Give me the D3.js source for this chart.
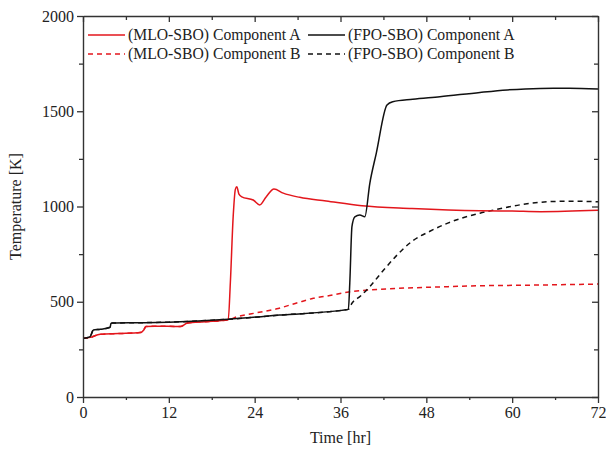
<!DOCTYPE html>
<html><head><meta charset="utf-8">
<script src="https://cdn.jsdelivr.net/npm/d3@7"></script>
<style>body{margin:0;background:#fff}svg{display:block}text{font-family:"Liberation Serif","Times New Roman",serif;fill:#222}</style>
</head><body><svg id="c" width="606" height="451"></svg>
<script>
const xTicks = [0,12,24,36,48,60,72];
const yTicks = [0,500,1000,1500,2000];
const seriesNames = ["(MLO-SBO) Component A","(MLO-SBO) Component B","(FPO-SBO) Component A","(FPO-SBO) Component B"];

const mloA_t = [0,1,2.4,5,8,8.5,8.8,10,13.6,14.6,17,20.3,20.6,21.0,21.3,21.5,21.8,22.2,23.8,24.7,25.6,26.7,28,30.3,34,39,46,55.5,60,64,72];
const mloA_v = [307,313,329,333,338,352,370,372,370,388,395,405,600,950,1090,1104,1065,1051,1034,1008,1050,1092,1070,1048,1029,1004,990,978,976,973,980];

const mloB_t = [0,1,2.4,5,8,8.5,8.8,10,13.6,14.6,17,20.3,21.5,24,27.3,30,32.2,34.1,36.9,40,43.9,50,55.5,60,66,72];
const mloB_v = [307,313,329,333,338,352,370,372,370,388,395,405,421,440,465,495,518,530,550,562,570,578,584,586,589,593];

const fpoA_t = [0,1,1.45,2.4,3.8,3.9,4.1,8,12,20.3,27.5,37.1,37.3,37.6,38,38.7,39.4,40.1,41,42.5,43.3,46.1,49.9,55.5,59.3,63.9,68,72];
const fpoA_v = [307,317,352,355,366,385,388,390,393,408,430,460,600,894,946,955,946,1122,1279,1533,1550,1563,1576,1599,1612,1620,1621,1617];

const fpoB_t = [0,1,1.45,2.4,3.8,3.9,4.1,8,12,20.3,27.5,37.1,37.6,38.8,40.1,42,43.9,46.1,48.5,51,55.5,57,61.5,65,68,72];
const fpoB_v = [307,317,352,355,366,385,388,390,393,408,430,460,492,530,580,665,745,820,870,913,965,978,1011,1025,1028,1025];

const svg = d3.select("#c");
const m = {l:83, r:598, t:16, b:397};
const x = d3.scaleLinear().domain([0,72]).range([m.l,m.r]);
const y = d3.scaleLinear().domain([0,2000]).range([m.b,m.t]);
const red = "#e3161c", blk = "#111";

const mk = (ts,vs)=>ts.map((t,i)=>[t,vs[i]]);
const series = [
  {d:mk(mloA_t,mloA_v), c:red, dash:null},
  {d:mk(mloB_t,mloB_v), c:red, dash:"5,4"},
  {d:mk(fpoA_t,fpoA_v), c:blk, dash:null},
  {d:mk(fpoB_t,fpoB_v), c:blk, dash:"5,4"}
];
const line = d3.line().x(d=>x(d[0])).y(d=>y(d[1])).curve(d3.curveMonotoneX);
const plot = svg.append("g");
[1,3,0,2].forEach(i=>{
  const s=series[i];
  plot.append("path").attr("d",line(s.d)).attr("fill","none").attr("stroke",s.c)
    .attr("stroke-width",1.5).attr("stroke-dasharray",s.dash);
});

const axc="#333";
const minorX = d3.range(6,72,12), minorY = d3.range(250,2000,500);
const fmt = d3.format("d");
function styleAxis(g){ g.attr("font-family",null).attr("font-size",null);
  g.selectAll("path").attr("stroke",axc).attr("stroke-width",1.4);
  g.selectAll("line").attr("stroke",axc).attr("stroke-width",1.3);
  g.selectAll("text").style("font-family",'"Liberation Serif",serif').style("font-size","16px").attr("fill","#222"); }

const gb = svg.append("g").attr("transform",`translate(0,${m.b})`)
  .call(d3.axisBottom(x).tickValues(xTicks).tickFormat(fmt).tickSize(6).tickPadding(4).tickSizeOuter(0));
styleAxis(gb);
svg.append("g").attr("transform",`translate(0,${m.b})`).call(d3.axisBottom(x).tickValues(minorX).tickSize(3).tickFormat("")).call(g=>{g.select("path").remove();styleAxis(g);});
const gl = svg.append("g").attr("transform",`translate(${m.l},0)`)
  .call(d3.axisLeft(y).tickValues(yTicks).tickFormat(fmt).tickSize(6).tickPadding(3).tickSizeOuter(0));
styleAxis(gl);
svg.append("g").attr("transform",`translate(${m.l},0)`).call(d3.axisLeft(y).tickValues(minorY).tickSize(4).tickFormat("")).call(g=>{g.select("path").remove();styleAxis(g);});
svg.append("g").attr("transform",`translate(0,${m.t})`).call(d3.axisBottom(x).tickValues(xTicks).tickSize(6).tickFormat("").tickSizeOuter(0)).call(styleAxis);
svg.append("g").attr("transform",`translate(0,${m.t})`).call(d3.axisBottom(x).tickValues(minorX).tickSize(4).tickFormat("")).call(g=>{g.select("path").remove();styleAxis(g);});
svg.append("g").attr("transform",`translate(${m.r},0)`).call(d3.axisLeft(y).tickValues(yTicks).tickSize(6).tickFormat("").tickSizeOuter(0)).call(styleAxis);
svg.append("g").attr("transform",`translate(${m.r},0)`).call(d3.axisLeft(y).tickValues(minorY).tickSize(4).tickFormat("")).call(g=>{g.select("path").remove();styleAxis(g);});

svg.append("text").attr("x",(m.l+m.r)/2).attr("y",443).attr("text-anchor","middle").style("font-size","16px").text("Time [hr]");
svg.append("text").attr("transform",`translate(21,${(m.t+m.b)/2}) rotate(-90)`).attr("text-anchor","middle").style("font-size","16px").text("Temperature [K]");

const leg = [
  {i:0,x:88,y:35},{i:1,x:88,y:54},{i:2,x:308,y:35},{i:3,x:308,y:54}
];
leg.forEach(L=>{
  const s=series[L.i];
  svg.append("line").attr("x1",L.x).attr("x2",L.x+37).attr("y1",L.y).attr("y2",L.y)
    .attr("stroke",s.c).attr("stroke-width",1.5).attr("stroke-dasharray",s.dash);
  svg.append("text").attr("x",L.x+40).attr("y",L.y+5).style("font-size","15.7px").text(seriesNames[L.i]);
});
</script></body></html>
